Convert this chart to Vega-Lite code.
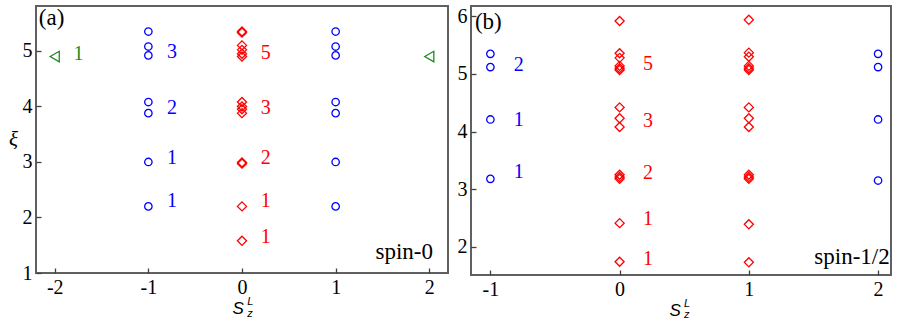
{
  "$schema": "https://vega.github.io/schema/vega-lite/v6.json",
  "padding": {"left": 7, "top": 5, "right": 0, "bottom": 0},
  "spacing": 7,
  "datasets": {
    "ptsA": [
      {"x": -1, "y": 5.35, "k": "c"}, {"x": -1, "y": 5.08, "k": "c"}, {"x": -1, "y": 4.92, "k": "c"},
      {"x": -1, "y": 4.08, "k": "c"}, {"x": -1, "y": 3.88, "k": "c"}, {"x": -1, "y": 3.0, "k": "c"}, {"x": -1, "y": 2.2, "k": "c"},
      {"x": 1, "y": 5.35, "k": "c"}, {"x": 1, "y": 5.08, "k": "c"}, {"x": 1, "y": 4.92, "k": "c"},
      {"x": 1, "y": 4.08, "k": "c"}, {"x": 1, "y": 3.88, "k": "c"}, {"x": 1, "y": 3.0, "k": "c"}, {"x": 1, "y": 2.2, "k": "c"},
      {"x": 0, "y": 5.35, "k": "d"}, {"x": 0, "y": 5.33, "k": "d"}, {"x": 0, "y": 5.1, "k": "d"}, {"x": 0, "y": 5.02, "k": "d"},
      {"x": 0, "y": 4.95, "k": "d"}, {"x": 0, "y": 4.9, "k": "d"}, {"x": 0, "y": 4.08, "k": "d"}, {"x": 0, "y": 4.0, "k": "d"},
      {"x": 0, "y": 3.95, "k": "d"}, {"x": 0, "y": 3.88, "k": "d"}, {"x": 0, "y": 2.99, "k": "d"}, {"x": 0, "y": 2.97, "k": "d"},
      {"x": 0, "y": 2.2, "k": "d"}, {"x": 0, "y": 1.58, "k": "d"},
      {"x": -2, "y": 4.9, "k": "t"}, {"x": 2, "y": 4.9, "k": "t"}
    ],
    "labA": [
      {"x": -0.8, "y": 4.98, "t": "3", "k": "c"}, {"x": -0.8, "y": 3.97, "t": "2", "k": "c"},
      {"x": -0.8, "y": 3.07, "t": "1", "k": "c"}, {"x": -0.8, "y": 2.3, "t": "1", "k": "c"},
      {"x": 0.2, "y": 4.97, "t": "5", "k": "d"}, {"x": 0.2, "y": 3.97, "t": "3", "k": "d"},
      {"x": 0.2, "y": 3.07, "t": "2", "k": "d"}, {"x": 0.2, "y": 2.3, "t": "1", "k": "d"},
      {"x": 0.2, "y": 1.65, "t": "1", "k": "d"},
      {"x": -1.8, "y": 4.95, "t": "1", "k": "t"}
    ],
    "noteA": [
      {"x": -2.17, "y": 5.6, "t": "(a)"}
    ],
    "spinA": [
      {"x": 2.04, "y": 1.38, "t": "spin-0"}
    ],
    "sA": [{"x": -0.04, "y": 0.35, "t": "S"}],
    "subA": [{"x": 0.055, "y": 0.26, "t": "z"}],
    "supA": [{"x": 0.055, "y": 0.47, "t": "L"}],
    "ptsB": [
      {"x": -1, "y": 5.35, "k": "c"}, {"x": -1, "y": 5.12, "k": "c"}, {"x": -1, "y": 4.21, "k": "c"}, {"x": -1, "y": 3.18, "k": "c"},
      {"x": 2, "y": 5.35, "k": "c"}, {"x": 2, "y": 5.12, "k": "c"}, {"x": 2, "y": 4.21, "k": "c"}, {"x": 2, "y": 3.15, "k": "c"},
      {"x": 0, "y": 5.92, "k": "d"}, {"x": 0, "y": 5.36, "k": "d"}, {"x": 0, "y": 5.28, "k": "d"}, {"x": 0, "y": 5.14, "k": "d"},
      {"x": 0, "y": 5.1, "k": "d"}, {"x": 0, "y": 5.07, "k": "d"}, {"x": 0, "y": 4.42, "k": "d"}, {"x": 0, "y": 4.23, "k": "d"},
      {"x": 0, "y": 4.08, "k": "d"}, {"x": 0, "y": 3.25, "k": "d"}, {"x": 0, "y": 3.21, "k": "d"}, {"x": 0, "y": 3.18, "k": "d"},
      {"x": 0, "y": 2.41, "k": "d"}, {"x": 0, "y": 1.74, "k": "d"},
      {"x": 1, "y": 5.94, "k": "d"}, {"x": 1, "y": 5.37, "k": "d"}, {"x": 1, "y": 5.3, "k": "d"}, {"x": 1, "y": 5.14, "k": "d"},
      {"x": 1, "y": 5.1, "k": "d"}, {"x": 1, "y": 5.07, "k": "d"}, {"x": 1, "y": 4.42, "k": "d"}, {"x": 1, "y": 4.23, "k": "d"},
      {"x": 1, "y": 4.08, "k": "d"}, {"x": 1, "y": 3.25, "k": "d"}, {"x": 1, "y": 3.21, "k": "d"}, {"x": 1, "y": 3.18, "k": "d"},
      {"x": 1, "y": 2.39, "k": "d"}, {"x": 1, "y": 1.73, "k": "d"}
    ],
    "labB": [
      {"x": -0.82, "y": 5.16, "t": "2", "k": "c"}, {"x": -0.82, "y": 4.2, "t": "1", "k": "c"},
      {"x": -0.82, "y": 3.3, "t": "1", "k": "c"},
      {"x": 0.18, "y": 5.17, "t": "5", "k": "d"}, {"x": 0.18, "y": 4.19, "t": "3", "k": "d"},
      {"x": 0.18, "y": 3.28, "t": "2", "k": "d"}, {"x": 0.18, "y": 2.48, "t": "1", "k": "d"},
      {"x": 0.18, "y": 1.78, "t": "1", "k": "d"}
    ],
    "noteB": [
      {"x": -1.12, "y": 5.9, "t": "(b)"}
    ],
    "spinB": [
      {"x": 2.09, "y": 1.83, "t": "spin-1/2"}
    ],
    "sB": [{"x": 0.43, "y": 0.89, "t": "S"}],
    "subB": [{"x": 0.498, "y": 0.81, "t": "z"}],
    "supB": [{"x": 0.498, "y": 1.01, "t": "L"}]
  },
  "hconcat": [
    {
      "width": 412,
      "height": 267,
      "encoding": {
        "x": {"field": "x", "type": "quantitative",
          "scale": {"domain": [-2.2, 2.2], "nice": false, "zero": false},
          "axis": {"values": [-2, -1, 0, 1, 2], "title": null,
            "labelExpr": "datum.value < 0 ? '-' + abs(datum.value) : datum.label"}},
        "y": {"field": "y", "type": "quantitative",
          "scale": {"domain": [1, 5.81], "nice": false, "zero": false},
          "axis": {"values": [1, 2, 3, 4, 5], "title": "ξ", "titleAngle": 0, "titleFontSize": 21, "titleFontStyle": "italic", "titleFontWeight": "normal", "titleBaseline": "middle", "titlePadding": 9}}
      },
      "layer": [
        {"data": {"name": "ptsA"}, "mark": {"type": "point", "filled": false, "strokeWidth": 1.3, "opacity": 1},
          "encoding": {
            "shape": {"field": "k", "type": "nominal", "scale": {"domain": ["c", "d", "t"], "range": ["circle", "diamond", "triangle-left"]}, "legend": null},
            "color": {"field": "k", "type": "nominal", "scale": {"domain": ["c", "d", "t"], "range": ["#0000ff", "#ff0000", "#1a8c1a"]}, "legend": null},
            "size": {"field": "k", "type": "nominal", "scale": {"domain": ["c", "d", "t"], "range": [55, 110, 40]}, "legend": null}
          }},
        {"data": {"name": "labA"}, "mark": {"type": "text", "fontSize": 20, "align": "left", "baseline": "middle", "font": "Liberation Serif"},
          "encoding": {"text": {"field": "t"},
            "color": {"field": "k", "type": "nominal", "scale": {"domain": ["c", "d", "t"], "range": ["#0000ff", "#ff0000", "#1a8c1a"]}, "legend": null}}},
        {"data": {"name": "noteA"}, "mark": {"type": "text", "fontSize": 23, "align": "left", "baseline": "middle", "font": "Liberation Serif", "color": "#000"},
          "encoding": {"text": {"field": "t"}}},
        {"data": {"name": "spinA"}, "mark": {"type": "text", "fontSize": 23, "align": "right", "baseline": "middle", "font": "Liberation Serif", "color": "#000"},
          "encoding": {"text": {"field": "t"}}},
        {"data": {"name": "sA"}, "mark": {"type": "text", "fontSize": 17, "align": "center", "baseline": "middle", "font": "Liberation Sans", "fontStyle": "italic", "color": "#000"},
          "encoding": {"text": {"field": "t"}}},
        {"data": {"name": "subA"}, "mark": {"type": "text", "fontSize": 11, "align": "left", "baseline": "middle", "font": "Liberation Sans", "fontStyle": "italic", "color": "#000"},
          "encoding": {"text": {"field": "t"}}},
        {"data": {"name": "supA"}, "mark": {"type": "text", "fontSize": 11, "align": "left", "baseline": "middle", "font": "Liberation Sans", "fontStyle": "italic", "color": "#000"},
          "encoding": {"text": {"field": "t"}}}
      ]
    },
    {
      "width": 420,
      "height": 269,
      "encoding": {
        "x": {"field": "x", "type": "quantitative",
          "scale": {"domain": [-1.15, 2.1], "nice": false, "zero": false},
          "axis": {"values": [-1, 0, 1, 2], "title": null,
            "labelExpr": "datum.value < 0 ? '-' + abs(datum.value) : datum.label"}},
        "y": {"field": "y", "type": "quantitative",
          "scale": {"domain": [1.51, 6.18], "nice": false, "zero": false},
          "axis": {"values": [2, 3, 4, 5, 6], "title": null}}
      },
      "layer": [
        {"data": {"name": "ptsB"}, "mark": {"type": "point", "filled": false, "strokeWidth": 1.3, "opacity": 1},
          "encoding": {
            "shape": {"field": "k", "type": "nominal", "scale": {"domain": ["c", "d", "t"], "range": ["circle", "diamond", "triangle-left"]}, "legend": null},
            "color": {"field": "k", "type": "nominal", "scale": {"domain": ["c", "d", "t"], "range": ["#0000ff", "#ff0000", "#1a8c1a"]}, "legend": null},
            "size": {"field": "k", "type": "nominal", "scale": {"domain": ["c", "d", "t"], "range": [55, 110, 40]}, "legend": null}
          }},
        {"data": {"name": "labB"}, "mark": {"type": "text", "fontSize": 20, "align": "left", "baseline": "middle", "font": "Liberation Serif"},
          "encoding": {"text": {"field": "t"},
            "color": {"field": "k", "type": "nominal", "scale": {"domain": ["c", "d", "t"], "range": ["#0000ff", "#ff0000", "#1a8c1a"]}, "legend": null}}},
        {"data": {"name": "noteB"}, "mark": {"type": "text", "fontSize": 23, "align": "left", "baseline": "middle", "font": "Liberation Serif", "color": "#000"},
          "encoding": {"text": {"field": "t"}}},
        {"data": {"name": "spinB"}, "mark": {"type": "text", "fontSize": 23, "align": "right", "baseline": "middle", "font": "Liberation Serif", "color": "#000"},
          "encoding": {"text": {"field": "t"}}},
        {"data": {"name": "sB"}, "mark": {"type": "text", "fontSize": 17, "align": "center", "baseline": "middle", "font": "Liberation Sans", "fontStyle": "italic", "color": "#000"},
          "encoding": {"text": {"field": "t"}}},
        {"data": {"name": "subB"}, "mark": {"type": "text", "fontSize": 11, "align": "left", "baseline": "middle", "font": "Liberation Sans", "fontStyle": "italic", "color": "#000"},
          "encoding": {"text": {"field": "t"}}},
        {"data": {"name": "supB"}, "mark": {"type": "text", "fontSize": 11, "align": "left", "baseline": "middle", "font": "Liberation Sans", "fontStyle": "italic", "color": "#000"},
          "encoding": {"text": {"field": "t"}}}
      ]
    }
  ],
  "config": {
    "background": "white",
    "font": "Liberation Serif",
    "view": {"stroke": "#606060", "strokeWidth": 2},
    "axis": {
      "grid": false,
      "domain": false,
      "tickSize": -5,
      "tickColor": "#404040",
      "tickWidth": 1.3,
      "labelFont": "Liberation Serif",
      "labelFontSize": 20,
      "labelColor": "#000",
      "labelPadding": 9,
      "titleFont": "Liberation Serif",
      "titleColor": "#000"
    }
  }
}
